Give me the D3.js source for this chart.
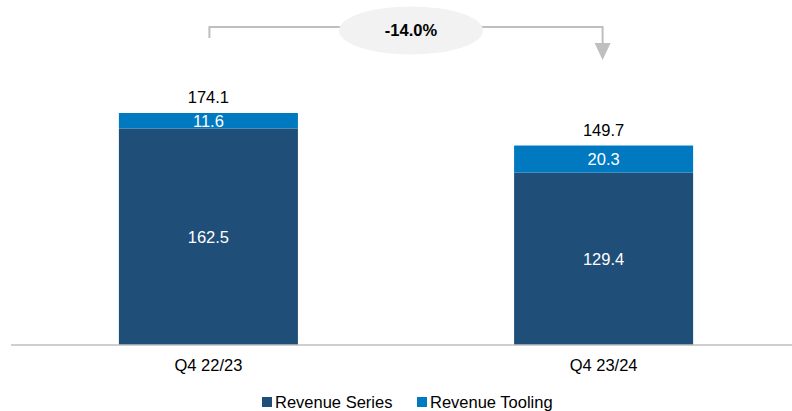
<!DOCTYPE html>
<html>
<head>
<meta charset="utf-8">
<script src="https://cdn.jsdelivr.net/npm/d3@7"></script>
<style>
    body { margin: 0; background: #fff; }
    svg { display: block; font-family: Arial, "Liberation Sans", sans-serif; }
</style>
</head>
<body>
<div id="chart"></div>
<script>
const categories = ['Q4 22/23', 'Q4 23/24'];
const revenueSeries = [162.5, 129.4];
const revenueTooling = [11.6, 20.3];
const totals = [174.1, 149.7];
const changeLabel = '-14.0%';
const seriesNames = ['Revenue Series', 'Revenue Tooling'];
const colors = ['#1F4E79', '#0079C1'];

const width = 792, height = 411;
const baseline = 345;

const svg = d3.select('#chart').append('svg')
    .attr('width', width)
    .attr('height', height);

// Scales
const x = d3.scaleBand()
    .domain(categories)
    .range([11, 801])
    .paddingInner(0.547)
    .paddingOuter(0.273);

const y = d3.scaleLinear()
    .domain([0, 174.1])
    .range([baseline, 113]);

const rows = categories.map((c, i) => ({
    cat: c, series: revenueSeries[i], tooling: revenueTooling[i], total: totals[i]
}));
const stacked = d3.stack().keys(['series', 'tooling'])(rows);

// Bars
svg.append('g').selectAll('g')
    .data(stacked)
    .join('g')
    .attr('fill', (d, i) => colors[i])
    .selectAll('rect')
    .data(d => d)
    .join('rect')
    .attr('x', d => x(d.data.cat))
    .attr('y', d => y(d[1]))
    .attr('width', x.bandwidth())
    .attr('height', d => y(d[0]) - y(d[1]));

// Segment labels
svg.append('g').selectAll('g')
    .data(stacked)
    .join('g')
    .selectAll('text')
    .data(d => d)
    .join('text')
    .attr('x', d => x(d.data.cat) + x.bandwidth() / 2)
    .attr('y', d => (y(d[0]) + y(d[1])) / 2)
    .attr('dy', '0.35em')
    .attr('text-anchor', 'middle')
    .attr('fill', '#fff')
    .style('font-size', '16.5px')
    .text(d => (d[1] - d[0]).toFixed(1));

// Totals
svg.append('g').selectAll('text')
    .data(rows)
    .join('text')
    .attr('x', d => x(d.cat) + x.bandwidth() / 2)
    .attr('y', d => y(d.total) - 10)
    .attr('text-anchor', 'middle')
    .attr('fill', '#000')
    .style('font-size', '16.5px')
    .text(d => d.total.toFixed(1));

// Baseline and category axis
const axis = svg.append('g')
    .attr('transform', `translate(0,${baseline})`)
    .call(d3.axisBottom(x).tickSize(0).tickPadding(14));
axis.select('.domain').attr('d', 'M11,0H792').attr('stroke', '#BFBFBF').attr('stroke-width', 1.5);
axis.selectAll('text')
    .attr('fill', '#000')
    .style('font-size', '16.5px')
    .style('font-family', 'Arial, "Liberation Sans", sans-serif');

// Change arrow
const x0 = x(categories[0]) + x.bandwidth() / 2 + 1;
const x1 = x(categories[1]) + x.bandwidth() / 2 - 1;
const arrowY = 27;
svg.append('path')
    .attr('d', `M${x0},38V${arrowY}H${x1}V45`)
    .attr('fill', 'none')
    .attr('stroke', '#BFBFBF')
    .attr('stroke-width', 2);
svg.append('path')
    .attr('d', `M${x1 - 8},43L${x1 + 8},43L${x1},60Z`)
    .attr('fill', '#BFBFBF');

const cx = (x0 + x1) / 2 + 5;
svg.append('ellipse')
    .attr('cx', cx)
    .attr('cy', 30.5)
    .attr('rx', 72)
    .attr('ry', 24)
    .attr('fill', '#F2F2F2');
svg.append('text')
    .attr('x', cx)
    .attr('y', 30.5)
    .attr('dy', '0.35em')
    .attr('text-anchor', 'middle')
    .attr('font-weight', 'bold')
    .style('font-size', '16.5px')
    .text(changeLabel);

// Legend
const legendX = [262, 417];
const legend = svg.append('g').selectAll('g')
    .data(seriesNames)
    .join('g')
    .attr('transform', (d, i) => `translate(${legendX[i]},397)`);
legend.append('rect')
    .attr('width', 10)
    .attr('height', 10)
    .attr('fill', (d, i) => colors[i]);
legend.append('text')
    .attr('x', 13)
    .attr('y', 5)
    .attr('dy', '0.35em')
    .style('font-size', '16.5px')
    .text(d => d);
</script>
</body>
</html>
